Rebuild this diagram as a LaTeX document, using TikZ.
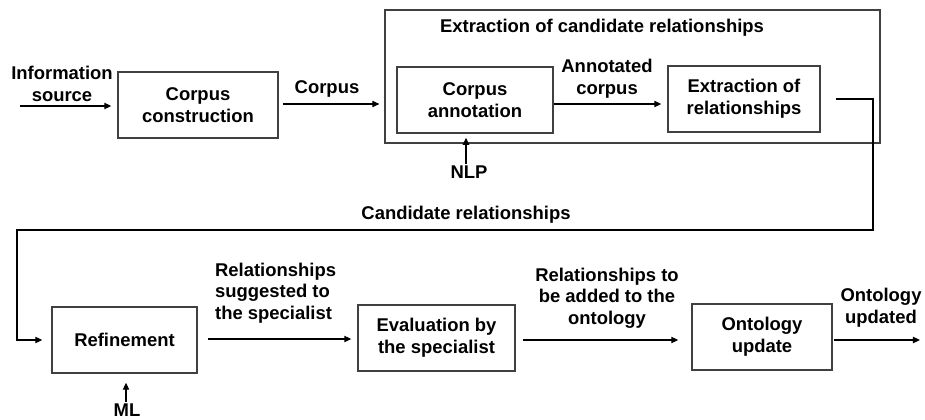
\documentclass[tikz,border=0pt]{standalone}
\usepackage{fontspec}
\setmainfont{Liberation Sans}
\usepackage{tikz}
\usetikzlibrary{calc}
\usetikzlibrary{arrows.meta}
\usetikzlibrary{positioning}
\tikzset{stage/.style={rectangle,draw=black!75,line width=0.85pt,align=center,minimum height=1.32cm,inner sep=2pt}}
\tikzset{lbl/.style={align=center,inner sep=1pt}}
\tikzset{arr/.style={line width=0.6pt,-{Triangle[length=4pt,width=3.6pt]}}}

\begin{document}
\begin{tikzpicture}[x=0.02cm,y=-0.02cm,font=\fontsize{10.5}{12.3}\selectfont\bfseries]
\useasboundingbox (0,0) rectangle (925,419);
% top row
\node[stage, minimum width=9.9cm, minimum height=2.66cm] (ext) at (632.5,76.5) {};
\node[lbl] (extT) at (602,28) {Extraction of candidate relationships};
\node[stage, minimum width=3.2cm] (cc) at (198,105) {Corpus\\construction};
\node[stage, minimum width=3.12cm] (ca) at (475,100) {Corpus\\annotation};
\node[stage, minimum width=3.04cm] (er) at (744,99) {Extraction of\\relationships};
\node[lbl] (srcL) at (62,84) {Information\\source};
\coordinate (src) at (20,106);
\node[lbl] (corpL) at (327,89) {Corpus};
\node[lbl] (annL) at (607,79) {Annotated\\corpus};
\node[lbl] (nlp) at (469,172) {NLP};
% bottom row
\node[stage, minimum width=2.9cm] (ref) at (124.5,340) {Refinement};
\node[stage, minimum width=3.14cm] (eva) at (436.5,338) {Evaluation by\\the specialist};
\node[stage, minimum width=2.8cm] (ou) at (762,337) {Ontology\\update};
\node[lbl] (candL) at (466,215) {Candidate relationships};
\node[lbl, align=left, anchor=west] (sugL) at (213,293) {Relationships\\suggested to\\the specialist};
\node[lbl] (addL) at (607,298) {Relationships to\\be added to the\\ontology};
\node[lbl] (ouL) at (881,308) {Ontology\\updated};
\node[lbl] (ml) at (127,410) {ML};
\coordinate (out) at (920,340);
\coordinate (turnR) at (873,230);
\coordinate (turnL) at (17,230);

\draw[arr, shorten >=3.4pt] (src) -- (src -| cc.west);
\draw[arr, shorten <=2.3pt, shorten >=2.8pt] (cc.east |- 0,104) -- (ext.west |- 0,104);
\draw[arr, shorten >=3.4pt] (ca.east |- 0,104) -- (er.west |- 0,104);
\draw[arr, shorten >=2.3pt] (nlp.north -| 466,0) -- (ca.south -| 466,0);
\draw[arr, shorten <=8.5pt, shorten >=5.1pt] (er.east) -| (turnR) -- (turnL) |- (ref.west);
\draw[arr, shorten <=5.7pt, shorten >=3.4pt] (ref.east |- 0,339) -- (eva.west |- 0,339);
\draw[arr, shorten <=4pt, shorten >=7.4pt] (eva.east |- 0,340) -- (ou.west |- 0,340);
\draw[arr, shorten <=0.6pt] (ou.east |- 0,340) -- (out);
\draw[arr, shorten >=5.1pt] (ml.north -| 126,0) -- (ref.south -| 126,0);
\end{tikzpicture}
\end{document}
